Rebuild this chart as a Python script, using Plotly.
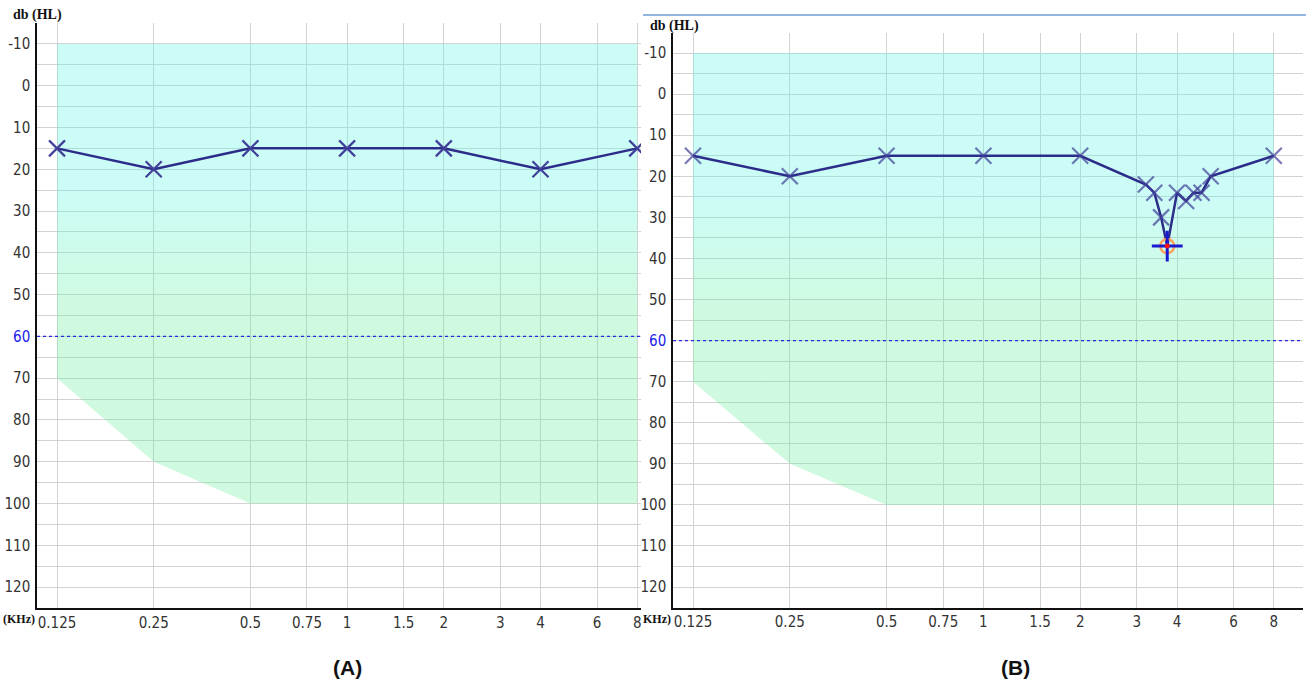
import plotly.graph_objects as go

W, H = 1306, 683

# ---- data ----
freq_ticks = [0.125, 0.25, 0.5, 0.75, 1, 1.5, 2, 3, 4, 6, 8]
freq_tick_text = ["0.125", "0.25", "0.5", "0.75", "1", "1.5", "2", "3", "4", "6", "8"]
db_ticks = [-10, 0, 10, 20, 30, 40, 50, 60, 70, 80, 90, 100, 110, 120]

# normal-hearing shaded zone boundary
zone_x = [0.125, 0.125, 0.25, 0.5, 8, 8]
zone_y = [-10, 70, 90, 100, 100, -10]

# Panel A thresholds
a_freq = [0.125, 0.25, 0.5, 1, 2, 4, 8]
a_db = [15, 20, 15, 15, 15, 20, 15]

# Panel B thresholds (fine sweep around 3-5 kHz)
b_freq = [0.125, 0.25, 0.5, 1, 2, 3.2, 3.4, 3.57, 3.73, 4.0, 4.27, 4.5, 4.77, 5.09, 8]
b_db = [15, 20, 15, 15, 15, 22, 24, 30, 37, 24, 26, 24, 24, 20, 15]
b_sel_freq = [3.73]
b_sel_db = [37]

LINE_C = "#2c2c8a"
MARK_C = "#40409a"
TICK_FONT = dict(family="DejaVu Sans Condensed, Liberation Sans Narrow, Liberation Sans, Arial",
                 size=15, color="#333333")


def px_x(p):
    return p / W


def px_y(p):
    return 1 - p / H


fig = go.Figure()

panels = [
    dict(x="x", y="y", xd=[px_x(37), px_x(641)], yd=[px_y(608), px_y(23)], xr=[-0.96535, 0.9149]),
    dict(x="x2", y="y2", xd=[px_x(673), px_x(1303)], yd=[px_y(607.6), px_y(32.5)], xr=[-0.96529, 0.9939]),
]

for p in panels:
    fig.add_trace(go.Scatter(
        x=zone_x, y=zone_y, mode="none", fill="toself",
        fillgradient=dict(type="vertical", start=100, stop=-10,
                          colorscale=[[0, "rgba(98,238,152,0.3)"], [0.42, "rgba(98,238,152,0.3)"],
                                      [0.68, "rgba(85,245,225,0.3)"], [1, "rgba(85,245,225,0.3)"]]),
        xaxis=p["x"], yaxis=p["y"], hoverinfo="skip", showlegend=False))

# threshold lines
fig.add_trace(go.Scatter(
    x=a_freq, y=a_db, mode="lines+markers", xaxis="x", yaxis="y",
    line=dict(color=LINE_C, width=2.5),
    marker=dict(symbol="x-thin", size=16, line=dict(color=MARK_C, width=2.2)),
    showlegend=False))

b_sym = ["x-thin" if f not in b_sel_freq else "circle" for f in b_freq]
b_size = [16 if f not in b_sel_freq else 1 for f in b_freq]
fig.add_trace(go.Scatter(
    x=b_freq, y=b_db, mode="lines+markers", xaxis="x2", yaxis="y2",
    line=dict(color=LINE_C, width=2.5),
    marker=dict(symbol=b_sym, size=b_size, color=MARK_C, line=dict(color=MARK_C, width=2.2)),
    showlegend=False))

# selected point cursor
fig.add_trace(go.Scatter(x=b_sel_freq, y=b_sel_db, mode="markers", xaxis="x2", yaxis="y2",
                         marker=dict(symbol="circle-open", size=14, line=dict(color="#ff1010", width=2.5)),
                         showlegend=False))
fig.add_trace(go.Scatter(x=b_sel_freq, y=b_sel_db, mode="markers", xaxis="x2", yaxis="y2",
                         marker=dict(symbol="cross-thin", size=22, line=dict(color="#1a1ad0", width=3)),
                         showlegend=False))
fig.add_trace(go.Scatter(x=b_sel_freq, y=b_sel_db, mode="markers", xaxis="x2", yaxis="y2",
                         marker=dict(symbol="circle", size=5, color="#ff1010"),
                         showlegend=False))

ytext = [("<span style='color:#2020ee'>60</span>" if v == 60 else str(v)) for v in db_ticks]

layout = dict(
    width=W, height=H, margin=dict(l=0, r=0, t=0, b=0),
    paper_bgcolor="white", plot_bgcolor="white", showlegend=False,
)
for i, p in enumerate(panels):
    sx = "" if i == 0 else "2"
    layout["xaxis" + sx] = dict(
        type="log", range=p["xr"], domain=p["xd"], anchor=p["y"],
        tickvals=freq_ticks, ticktext=freq_tick_text, tickfont=TICK_FONT,
        showgrid=True, gridcolor="#d3d3d3", gridwidth=1.3,
        showline=True, linecolor="#111111", linewidth=1.5, ticks="", zeroline=False,
    )
    layout["yaxis" + sx] = dict(
        range=[125, -15], domain=p["yd"], anchor=p["x"],
        tickvals=db_ticks, ticktext=ytext, tickfont=TICK_FONT,
        showgrid=True, gridcolor="#d3d3d3", gridwidth=1.3,
        minor=dict(dtick=5, tick0=0, showgrid=True, gridcolor="#d3d3d3", gridwidth=1.3, ticks=""),
        showline=True, linecolor="#111111", linewidth=1.5, ticks="", zeroline=False,
        ticklabelstandoff=2,
    )
fig.update_layout(**layout)

# 60 dB reference lines
for p in panels:
    fig.add_shape(type="line", xref=p["x"] + " domain", yref=p["y"], x0=0, x1=1, y0=60, y1=60,
                  line=dict(color="#2828e0", width=1.2, dash="dot"))

# top border line of panel B
fig.add_shape(type="line", xref="paper", yref="paper", x0=px_x(643), x1=1, y0=px_y(15), y1=px_y(15),
              line=dict(color="#6f9bd1", width=1.5))

LAB = dict(family="Liberation Serif, DejaVu Serif", size=14, color="#111111")
LAB_S = dict(family="Liberation Serif, DejaVu Serif", size=12, color="#111111")
# axis unit labels
fig.add_annotation(text="<b>db (HL)</b>", xref="paper", yref="paper", x=px_x(11), y=px_y(15),
                   xanchor="left", yanchor="middle", showarrow=False, font=LAB)
fig.add_annotation(text="<b>db (HL)</b>", xref="paper", yref="paper", x=px_x(648), y=px_y(26),
                   xanchor="left", yanchor="middle", showarrow=False, font=LAB)
fig.add_annotation(text="<b>(KHz)</b>", xref="paper", yref="paper", x=px_x(37), y=px_y(619),
                   xanchor="right", yanchor="middle", showarrow=False, font=LAB_S)
fig.add_annotation(text="<b>KHz)</b>", xref="paper", yref="paper", x=px_x(641), y=px_y(619),
                   xanchor="left", yanchor="middle", showarrow=False, font=LAB_S)

# panel letters
PF = dict(family="Liberation Sans, Arial", size=21, color="#111111")
fig.add_annotation(text="<b>(A)</b>", xref="paper", yref="paper", x=px_x(347), y=px_y(667),
                   xanchor="center", yanchor="middle", showarrow=False, font=PF)
fig.add_annotation(text="<b>(B)</b>", xref="paper", yref="paper", x=px_x(1015), y=px_y(667),
                   xanchor="center", yanchor="middle", showarrow=False, font=PF)

fig.write_html("out.html", config={"displayModeBar": False},
               post_script="document.body.style.margin='0';document.body.style.overflow='hidden';")
